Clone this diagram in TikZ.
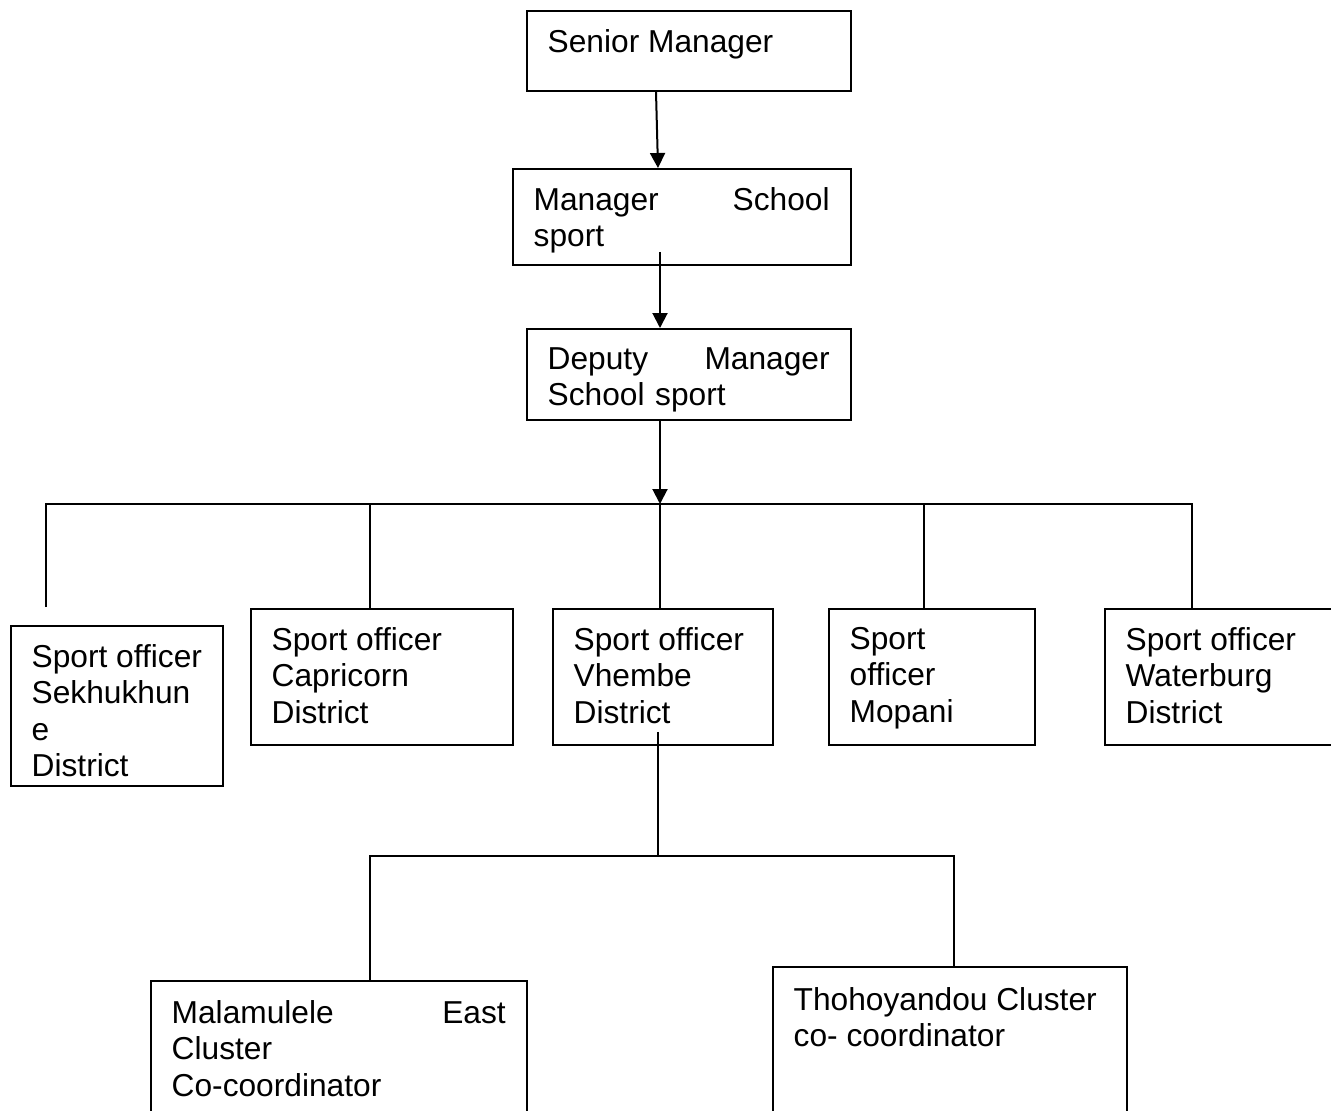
\documentclass[tikz,border=0pt]{standalone}
\usepackage{fontspec}
\setmainfont{Liberation Sans}
\usetikzlibrary{arrows.meta}
\begin{document}
\begin{tikzpicture}[x=1pt,y=-1pt,
  box/.style={draw, line width=1.8pt, rectangle, anchor=north west, inner sep=0pt},
  lbl/.style={anchor=north west, inner sep=0pt, align=left, font=\fontsize{31.7}{36.5}\selectfont},
  conn/.style={line width=1.6pt},
  arr/.style={line width=2pt, -{Triangle[width=15pt,length=15pt]}}]
\clip (0,0) rectangle (1331,1111);
% boxes
\node[box, minimum width=324pt, minimum height=80pt] (sm) at (526,10) {};
\node[box, minimum width=338pt, minimum height=96pt] (ms) at (512,168) {};
\node[box, minimum width=324pt, minimum height=91pt] (dm) at (526,328) {};
\node[box, minimum width=212pt, minimum height=160pt] (sek) at (10,625) {};
\node[box, minimum width=262pt, minimum height=136pt] (cap) at (250,608) {};
\node[box, minimum width=220pt, minimum height=136pt] (vhe) at (552,608) {};
\node[box, minimum width=206pt, minimum height=136pt] (mop) at (828,608) {};
\node[box, minimum width=240pt, minimum height=136pt] (wat) at (1104,608) {};
\node[box, minimum width=376pt, minimum height=150pt] (mal) at (150,980) {};
\node[box, minimum width=354pt, minimum height=160pt] (tho) at (772,966) {};
% texts
\node[lbl] (smt) at ([shift={(21.5,19)}]sm.north west) {Senior Manager};
\node[lbl, text width=296pt] (mst) at ([shift={(21.5,19)}]ms.north west) {Manager\hfill School\\sport};
\node[lbl, text width=282pt] (dmt) at ([shift={(21.5,19)}]dm.north west) {Deputy\hfill Manager\\School sport};
\node[lbl] (sekt) at ([shift={(21.5,19)}]sek.north west) {Sport officer\\Sekhukhun\\e\\District};
\node[lbl] (capt) at ([shift={(21.5,19)}]cap.north west) {Sport officer\\Capricorn\\District};
\node[lbl] (vhet) at ([shift={(21.5,19)}]vhe.north west) {Sport officer\\Vhembe\\District};
\node[lbl] (mopt) at ([shift={(21.5,19)}]mop.north west) {Sport\\officer\\Mopani};
\node[lbl] (watt) at ([shift={(21.5,19)}]wat.north west) {Sport officer\\Waterburg\\District};
\node[lbl, text width=334pt] (malt) at ([shift={(21.5,20)}]mal.north west) {Malamulele\hfill East\\Cluster\\Co-coordinator};
\node[lbl] (thot) at ([shift={(21.5,21)}]tho.north west) {Thohoyandou Cluster\\co- coordinator};
% arrows
\draw[arr] ([xshift=130pt]sm.south west) -- ([xshift=146pt]ms.north west);
\draw[arr] ([xshift=148pt,yshift=14pt]ms.south west) -- ([xshift=134pt]dm.north west);
\coordinate (bus) at (660,504);
\draw[arr] ([xshift=134pt]dm.south west) -- (bus);
% bus to district officers
\coordinate (sekend) at ([xshift=36pt,yshift=18pt]sek.north west);
\draw[conn] (sekend) |- (bus) -| ([xshift=88pt]wat.north west);
\draw[conn] ([xshift=120pt]cap.north west) |- (bus);
\draw[conn] (bus) -- ([xshift=108pt]vhe.north west);
\draw[conn] ([xshift=96pt]mop.north west) |- (bus);
% Vhembe sub-tree
\coordinate (sub) at (658,856);
\draw[conn] ([xshift=106pt,yshift=14pt]vhe.south west) -- (sub);
\draw[conn] ([xshift=220pt]mal.north west) |- (sub) -| ([xshift=182pt]tho.north west);
\end{tikzpicture}
\end{document}
